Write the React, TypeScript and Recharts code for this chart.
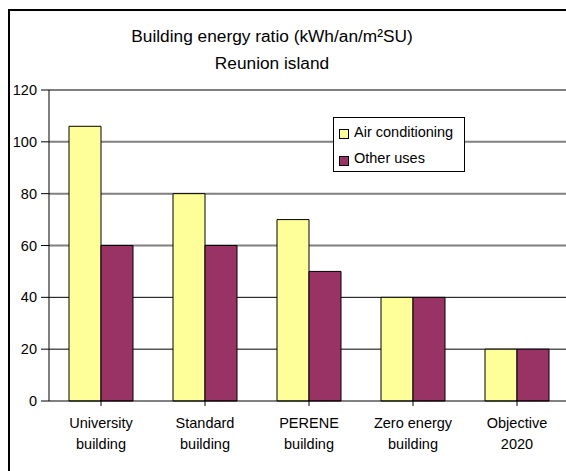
import { BarChart, Bar, XAxis, YAxis, CartesianGrid } from 'recharts';

const categories = ['University building', 'Standard building', 'PERENE building', 'Zero energy building', 'Objective 2020'];
const airConditioning = [106, 80, 70, 40, 20];
const otherUses = [60, 60, 50, 40, 20];
const yTicks = [0, 20, 40, 60, 80, 100, 120];
const grayLines = [100, 80, 60];
const blackLines = [120, 40, 20];

const YELLOW = '#FFFF99';
const PURPLE = '#993366';
const FONT = '"Liberation Sans", Arial, sans-serif';
const Y_MAX = 120;

const data = categories.map((name, i) => ({
  name,
  air: airConditioning[i],
  other: otherUses[i]
}));

// grid lines placed on the plot area the chart hands us
const gridAt = (values: number[]) => (props: any) => {
  const { offset } = props;
  return values.map(v => offset.top + offset.height * (1 - v / Y_MAX));
};

function CategoryTick({ x, y, payload }: any) {
  const words = String(payload.value).split(' ');
  const line2 = words.pop();
  const line1 = words.join(' ');
  return (
    <text x={x} y={y} textAnchor="middle" fill="#000" fontSize={14.5} fontFamily={FONT}>
      <tspan x={x} dy={20}>{line1}</tspan>
      <tspan x={x} dy={21}>{line2}</tspan>
    </text>
  );
}

function LegendBox() {
  const items = [
    { label: 'Air conditioning', color: YELLOW, top: 11, textTop: 6 },
    { label: 'Other uses', color: PURPLE, top: 38, textTop: 32 }
  ];
  return (
    <div
      style={{
        position: 'absolute',
        left: 333,
        top: 117,
        width: 132,
        height: 55,
        boxSizing: 'border-box',
        border: '1px solid #000',
        background: '#fff',
        fontFamily: FONT,
        fontSize: 14.5,
        color: '#000'
      }}
    >
      {items.map(it => (
        <div key={it.label}>
          <div
            style={{
              position: 'absolute',
              left: 5,
              top: it.top,
              width: 8,
              height: 8,
              border: '1px solid #000',
              background: it.color
            }}
          />
          <div style={{ position: 'absolute', left: 20, top: it.textTop, whiteSpace: 'nowrap' }}>
            {it.label}
          </div>
        </div>
      ))}
    </div>
  );
}

export default function App() {
  return (
    <div style={{ position: 'absolute', left: 0, top: 0, width: 566, height: 471, overflow: 'hidden', background: '#fff' }}>
      <div
        style={{
          position: 'absolute',
          left: 8,
          top: 9,
          width: 600,
          height: 500,
          borderLeft: '2px solid #000',
          borderTop: '2px solid #000'
        }}
      />
      <div
        style={{
          position: 'absolute',
          left: 0,
          top: 23,
          width: 544,
          textAlign: 'center',
          fontFamily: FONT,
          fontSize: 17.3,
          lineHeight: '27px',
          color: '#000'
        }}
      >
        <div>Building energy ratio (kWh/an/m²SU)</div>
        <div>Reunion island</div>
      </div>
      <div style={{ position: 'absolute', left: 0, top: 0 }}>
        <BarChart
          width={580}
          height={471}
          data={data}
          margin={{ top: 90, right: 11, bottom: 0, left: 0 }}
          barCategoryGap={20}
          barGap={0}
        >
          <CartesianGrid
            vertical={false}
            stroke="#808080"
            strokeWidth={2}
            horizontalCoordinatesGenerator={gridAt(grayLines)}
          />
          <CartesianGrid
            vertical={false}
            stroke="#000"
            strokeWidth={1}
            horizontalCoordinatesGenerator={gridAt(blackLines)}
          />
          <XAxis
            dataKey="name"
            interval={0}
            stroke="#000"
            tickSize={5}
            height={70}
            tick={<CategoryTick />}
          />
          <YAxis
            domain={[0, Y_MAX]}
            ticks={yTicks}
            interval={0}
            width={49}
            stroke="#000"
            tickSize={8}
            tickMargin={4}
            tick={{ fill: '#000', fontSize: 14.5, fontFamily: FONT }}
          />
          <Bar dataKey="air" name="Air conditioning" fill={YELLOW} stroke="#000" strokeWidth={1} isAnimationActive={false} />
          <Bar dataKey="other" name="Other uses" fill={PURPLE} stroke="#000" strokeWidth={1} isAnimationActive={false} />
        </BarChart>
      </div>
      <LegendBox />
    </div>
  );
}
